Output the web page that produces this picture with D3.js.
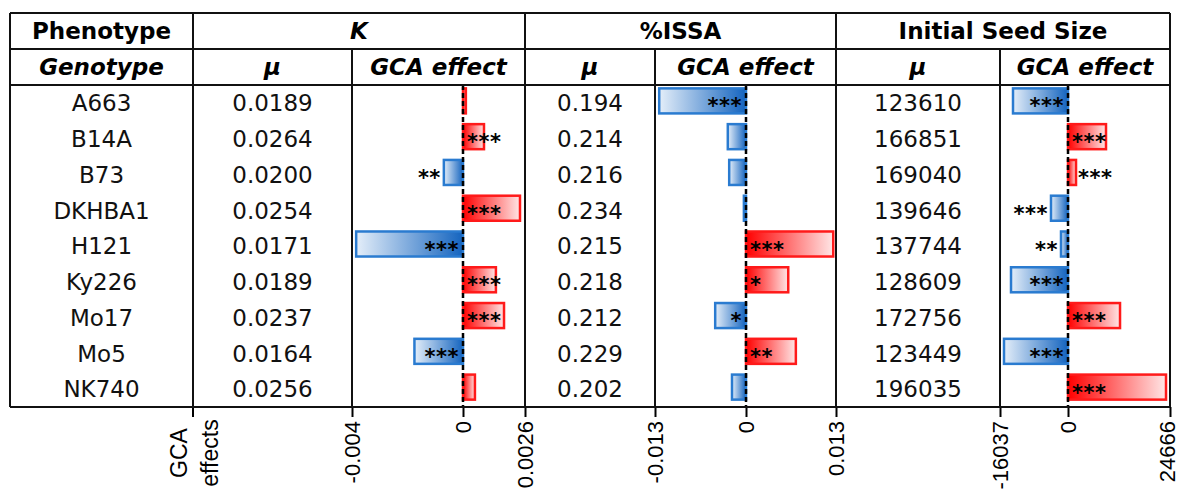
<!DOCTYPE html>
<html>
<head>
<meta charset="utf-8">
<script src="https://cdn.jsdelivr.net/npm/d3@7"></script>
<style>
  body { margin: 0; background: #fff; }
</style>
</head>
<body>
<div id="chart"></div>
<script>
const genotypes = ['A663', 'B14A', 'B73', 'DKHBA1', 'H121', 'Ky226', 'Mo17', 'Mo5', 'NK740'];

const kMu = [0.0189, 0.0264, 0.0200, 0.0254, 0.0171, 0.0189, 0.0237, 0.0164, 0.0256];
const kGca = [0.00012, 0.00088, -0.00069, 0.00239, -0.00385, 0.00138, 0.00172, -0.00175, 0.0005];
const kStars = ['', '***', '**', '***', '***', '***', '***', '***', ''];
const kTicks = [-0.004, 0, 0.0026];

const issaMu = [0.194, 0.214, 0.216, 0.234, 0.215, 0.218, 0.212, 0.229, 0.202];
const issaGca = [-0.0124, -0.0026, -0.0024, -0.0003, 0.0126, 0.0061, -0.0044, 0.0072, -0.0020];
const issaStars = ['***', '', '', '', '***', '*', '*', '**', ''];
const issaTicks = [-0.013, 0, 0.013];

const issMu = [123610, 166851, 169040, 139646, 137744, 128609, 172756, 123449, 196035];
const issGca = [-12970, 9190, 1940, -4010, -1650, -13440, 12580, -15090, 23700];
const issStars = ['***', '***', '***', '***', '**', '***', '***', '***', '***'];
const issTicks = [-16037, 0, 24666];

// ---- layout ----
const W = 1180;
const H = 490;
const tableFont = "'DejaVu Sans', Verdana, sans-serif";
const axisFont = "'Liberation Sans', Arial, sans-serif";
const yTop = 13;
const yHead1 = 49;
const yHead2 = 85;
const yBottom = 407;
const xLeft = 10;
const xRight = 1170;

const panels = [
  { x0: 352, zero: 463, x1: 525, ticks: kTicks, gca: kGca, stars: kStars, mu: kMu, muFmt: d => d.toFixed(4), muX: [193, 352], title: 'K', titleX: [193, 525], italic: true },
  { x0: 655, zero: 746, x1: 836, ticks: issaTicks, gca: issaGca, stars: issaStars, mu: issaMu, muFmt: d => d.toFixed(3), muX: [525, 655], title: '%ISSA', titleX: [525, 836], italic: false },
  { x0: 1000, zero: 1068, x1: 1170, ticks: issTicks, gca: issGca, stars: issStars, mu: issMu, muFmt: d => String(d), muX: [836, 1000], title: 'Initial Seed Size', titleX: [836, 1170], italic: false },
];

const svg = d3.select('#chart').append('svg')
  .attr('width', W)
  .attr('height', H)
  .attr('viewBox', `0 0 ${W} ${H}`);

// gradients for the bars
const defs = svg.append('defs');
const gBlue = defs.append('linearGradient').attr('id', 'gBlue');
gBlue.append('stop').attr('offset', '0%').attr('stop-color', '#e4eef9');
gBlue.append('stop').attr('offset', '100%').attr('stop-color', '#1464bf');
const gRed = defs.append('linearGradient').attr('id', 'gRed');
gRed.append('stop').attr('offset', '0%').attr('stop-color', '#ff0000');
gRed.append('stop').attr('offset', '100%').attr('stop-color', '#ffe6e6');

const rows = d3.scaleBand()
  .domain(genotypes)
  .range([yHead2, yBottom])
  .paddingInner(0.3)
  .paddingOuter(0.15);
const rowMid = g => rows(g) + rows.bandwidth() / 2;

const mid = ([a, b]) => (a + b) / 2;

// ---- header text ----
const head = svg.append('g')
  .style('font-family', tableFont)
  .style('font-size', '23px')
  .style('font-weight', 'bold')
  .attr('text-anchor', 'middle')
  .attr('fill', '#000');

head.append('text')
  .attr('x', mid([xLeft, 193]))
  .attr('y', (yTop + yHead1) / 2)
  .attr('dy', '0.36em')
  .text('Phenotype');
head.append('text')
  .attr('x', mid([xLeft, 193]))
  .attr('y', (yHead1 + yHead2) / 2)
  .attr('dy', '0.36em')
  .style('font-style', 'italic')
  .text('Genotype');

panels.forEach(p => {
  head.append('text')
    .attr('x', mid(p.titleX))
    .attr('y', (yTop + yHead1) / 2)
    .attr('dy', '0.36em')
    .style('font-style', p.italic ? 'italic' : 'normal')
    .text(p.title);
  head.append('text')
    .attr('x', mid(p.muX))
    .attr('y', (yHead1 + yHead2) / 2)
    .attr('dy', '0.36em')
    .style('font-style', 'italic')
    .text('\u03bc');
  head.append('text')
    .attr('x', mid([p.x0, p.x1]))
    .attr('y', (yHead1 + yHead2) / 2)
    .attr('dy', '0.36em')
    .style('font-style', 'italic')
    .text('GCA effect');
});

// ---- body text ----
const body = svg.append('g')
  .style('font-family', tableFont)
  .style('font-size', '23px')
  .attr('text-anchor', 'middle')
  .attr('fill', '#111');

body.selectAll('.geno')
  .data(genotypes)
  .join('text')
  .attr('class', 'geno')
  .attr('x', mid([xLeft, 193]))
  .attr('y', d => rowMid(d))
  .attr('dy', '0.36em')
  .text(d => d);

panels.forEach(p => {
  body.append('g').selectAll('text')
    .data(p.mu)
    .join('text')
    .attr('x', mid(p.muX))
    .attr('y', (d, i) => rowMid(genotypes[i]))
    .attr('dy', '0.36em')
    .text(p.muFmt);
});

// ---- bars ----
const axisG = svg.append('g');

panels.forEach(p => {
  // piecewise scale: end ticks sit on the column edges, zero
  const x = d3.scaleLinear()
    .domain(p.ticks)
    .range([p.x0, p.zero, p.x1]);

  const data = genotypes.map((g, i) => ({ g, v: p.gca[i], s: p.stars[i] }));
  const pg = svg.append('g');

  pg.selectAll('rect')
    .data(data)
    .join('rect')
    .attr('x', d => Math.min(x(d.v), x(0)))
    .attr('y', d => rows(d.g) - 2)
    .attr('width', d => Math.abs(x(d.v) - x(0)))
    .attr('height', rows.bandwidth())
    .attr('fill', d => (d.v < 0 ? 'url(#gBlue)' : 'url(#gRed)'))
    .attr('stroke', d => (d.v < 0 ? '#2a7bd0' : '#ff1a1a'))
    .attr('stroke-width', 2.5);

  // significance stars: inside near zero if the bar is long enough
  pg.selectAll('text')
    .data(data.filter(d => d.s))
    .join('text')
    .style('font-family', tableFont)
    .style('font-size', '21px')
    .style('font-weight', 'bold')
    .style('letter-spacing', '0.5px')
    .attr('fill', '#000')
    .attr('y', d => rows(d.g) - 2 + rows.bandwidth() / 2)
    .attr('dy', '0.6em')
    .attr('text-anchor', d => (d.v < 0 ? 'end' : 'start'))
    .attr('x', d => {
      const w = Math.abs(x(d.v) - x(0));
      if (d.v >= 0) return w >= 20 ? x(0) + 4 : x(d.v) + 2;
      return w >= 20 ? x(0) - 4 : x(d.v) - 3;
    })
    .text(d => d.s);

  // dashed zero line
  pg.append('line')
    .attr('x1', x(0))
    .attr('x2', x(0))
    .attr('y1', yHead2)
    .attr('y2', yBottom)
    .attr('stroke', '#000')
    .attr('stroke-width', 2.5)
    .attr('stroke-dasharray', '5,3');

  // bottom axis
  const ax = axisG.append('g')
    .attr('transform', `translate(0,${yBottom})`)
    .call(d3.axisBottom(x)
      .tickValues(p.ticks)
      .tickFormat(d => String(d))
      .tickSize(10)
      .tickSizeOuter(0));
  ax.select('.domain').remove();
  ax.selectAll('line').attr('stroke', '#000').attr('stroke-width', 2);
  ax.selectAll('text')
    .style('font-family', axisFont)
    .style('font-size', '22px')
    .attr('fill', '#000')
    .attr('transform', 'rotate(-90)')
    .attr('x', -14)
    .attr('y', 0)
    // the right-most label sits on the page edge, nudge it in a little
    .attr('dy', d => (x(d) >= W - 12 ? '0.22em' : '0.36em'))
    .style('text-anchor', 'end');
});

// GCA effects label + its tick
axisG.append('line')
  .attr('x1', 193).attr('x2', 193)
  .attr('y1', yBottom).attr('y2', yBottom + 10)
  .attr('stroke', '#000').attr('stroke-width', 2);
const lab = axisG.append('text')
  .attr('transform', 'translate(193,453) rotate(-90)')
  .attr('text-anchor', 'middle')
  .style('font-family', axisFont)
  .style('font-size', '23px')
  .attr('fill', '#000');
lab.append('tspan').attr('x', 0).attr('y', -6).text('GCA');
lab.append('tspan').attr('x', 0).attr('y', 25).text('effects');

// ---- table grid ----
const grid = svg.append('g')
  .attr('stroke', '#111')
  .attr('stroke-width', 2)
  .attr('fill', 'none');

[yTop, yHead1, yHead2, yBottom].forEach(y => {
  grid.append('line').attr('x1', xLeft).attr('x2', xRight).attr('y1', y).attr('y2', y);
});
[xLeft, 193, 525, 836, xRight].forEach(x => {
  grid.append('line').attr('x1', x).attr('x2', x).attr('y1', yTop).attr('y2', yBottom);
});
[352, 655, 1000].forEach(x => {
  grid.append('line').attr('x1', x).attr('x2', x).attr('y1', yHead1).attr('y2', yBottom);
});
</script>
</body>
</html>
